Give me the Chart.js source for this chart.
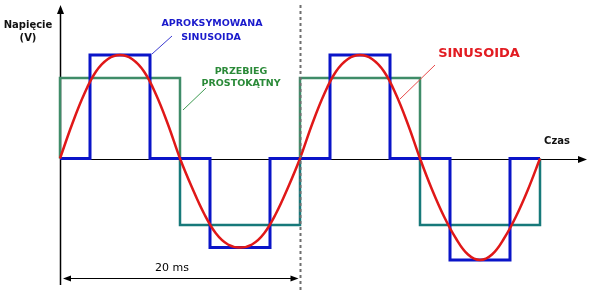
<!DOCTYPE html>
<html>
<head>
<meta charset="utf-8">
<script src="https://cdn.jsdelivr.net/npm/chart.js@4"></script>
<style>
  html, body { margin: 0; padding: 0; background: #fff; }
  canvas { display: block; }
</style>
</head>
<body>
<canvas id="waveChart" width="589" height="297"></canvas>
<script>
// time in ms, voltage in arbitrary units
const sineTimes = [0, 1, 2, 3, 4, 5, 6, 7, 8, 9, 10,
                   11, 12, 13, 14, 15, 16, 17, 18, 19, 20,
                   21, 22, 23, 24, 25, 26, 27, 28, 29, 30,
                   31, 32, 33, 34, 35, 36, 37, 38, 39, 40];
const sineValues = [0, 34, 64, 87, 99.5, 103.5, 99.5, 87, 64, 34, 0,
                    -29, -55, -75, -86, -89, -86, -75, -55, -29, 0,
                    34, 64, 87, 99.5, 103.5, 99.5, 87, 64, 34, 0,
                    -31, -58, -80, -96, -101.5, -96, -80, -58, -31, 0];

const stepTimes = [0, 2.5, 2.5, 7.5, 7.5, 12.5, 12.5, 17.5, 17.5, 22.5, 22.5, 27.5, 27.5, 32.5, 32.5, 37.5, 37.5, 40];
const stepValues = [0, 0, 103.5, 103.5, 0, 0, -89, -89, 0, 0, 103.5, 103.5, 0, 0, -101.5, -101.5, 0, 0];

const squareTimes = [0, 0, 10, 10, 10, 20, 20, 20, 30, 30, 30, 40, 40];
const squareValues = [0, 80.5, 80.5, 0, -66.5, -66.5, 0, 80.5, 80.5, 0, -66.5, -66.5, 0];

const periodLabel = '20 ms';
const periodEnd = 20;

function toPoints(xs, ys) {
    return xs.map((x, i) => ({ x: x, y: ys[i] }));
}

function arrowHead(ctx, x, y, dir, len, half) {
    // dir: 'up', 'right', 'left'
    ctx.beginPath();
    if (dir === 'up') {
        ctx.moveTo(x, y); ctx.lineTo(x - half, y + len); ctx.lineTo(x + half, y + len);
    } else if (dir === 'right') {
        ctx.moveTo(x, y); ctx.lineTo(x - len, y - half); ctx.lineTo(x - len, y + half);
    } else {
        ctx.moveTo(x, y); ctx.lineTo(x + len, y - half); ctx.lineTo(x + len, y + half);
    }
    ctx.closePath();
    ctx.fill();
}

function label(ctx, text, x, y, font, color) {
    ctx.font = font;
    ctx.fillStyle = color;
    ctx.textAlign = 'center';
    ctx.textBaseline = 'middle';
    ctx.fillText(text, x, y);
}

function leader(ctx, x1, y1, x2, y2, color) {
    ctx.strokeStyle = color;
    ctx.lineWidth = 1;
    ctx.beginPath();
    ctx.moveTo(x1, y1);
    ctx.lineTo(x2, y2);
    ctx.stroke();
}

const axesPlugin = {
    id: 'axesPlugin',
    beforeDatasetsDraw(chart) {
        const ctx = chart.ctx;
        const x0 = Math.round(chart.scales.x.getPixelForValue(0)) + 0.5;
        const y0 = Math.round(chart.scales.y.getPixelForValue(0)) + 0.5;
        ctx.save();
        ctx.strokeStyle = '#000';
        ctx.fillStyle = '#000';
        ctx.lineWidth = 1.5;
        // y axis
        ctx.beginPath();
        ctx.moveTo(x0, 285);
        ctx.lineTo(x0, 12);
        ctx.stroke();
        arrowHead(ctx, x0, 5, 'up', 9, 3.5);
        // x axis
        ctx.lineWidth = 1.2;
        ctx.beginPath();
        ctx.moveTo(x0, y0);
        ctx.lineTo(580, y0);
        ctx.stroke();
        arrowHead(ctx, 587, y0, 'right', 9, 3.5);
        ctx.restore();
    },
    afterDatasetsDraw(chart) {
        const ctx = chart.ctx;
        const x0 = chart.scales.x.getPixelForValue(0);
        const xp = Math.round(chart.scales.x.getPixelForValue(periodEnd)) + 0.5;
        ctx.save();
        // dashed period marker
        ctx.strokeStyle = '#6e6e6e';
        ctx.lineWidth = 2;
        ctx.setLineDash([3, 3]);
        ctx.beginPath();
        ctx.moveTo(xp, 5);
        ctx.lineTo(xp, 290);
        ctx.stroke();
        ctx.setLineDash([]);

        // period dimension arrow
        const ya = 278.5;
        ctx.strokeStyle = '#000';
        ctx.fillStyle = '#000';
        ctx.lineWidth = 1;
        ctx.beginPath();
        ctx.moveTo(x0 + 6, ya);
        ctx.lineTo(xp - 6, ya);
        ctx.stroke();
        arrowHead(ctx, x0 + 3, ya, 'left', 8, 3);
        arrowHead(ctx, xp - 2, ya, 'right', 8, 3);
        label(ctx, periodLabel, 172, 268, '11px "DejaVu Sans"', '#000');

        // axis titles
        label(ctx, 'Napięcie', 28, 25, 'bold 10px "DejaVu Sans"', '#111');
        label(ctx, '(V)', 28, 38, 'bold 10px "DejaVu Sans"', '#111');
        label(ctx, 'Czas', 557, 141, 'bold 10px "DejaVu Sans"', '#111');

        // callouts
        label(ctx, 'APROKSYMOWANA', 212, 24, 'bold 9.5px "DejaVu Sans"', '#1a1acc');
        label(ctx, 'SINUSOIDA', 211, 38, 'bold 9.5px "DejaVu Sans"', '#1a1acc');
        leader(ctx, 152, 54, 172, 36, '#3b3bd0');

        label(ctx, 'PRZEBIEG', 241, 72, 'bold 9.5px "DejaVu Sans"', '#2a8a38');
        label(ctx, 'PROSTOKĄTNY', 241, 84, 'bold 9.5px "DejaVu Sans"', '#2a8a38');
        leader(ctx, 206, 88, 183, 110, '#3c9a50');

        label(ctx, 'SINUSOIDA', 479, 54, 'bold 13px "DejaVu Sans"', '#e21c22');
        leader(ctx, 435, 65, 400, 99, '#e84a4a');
        ctx.restore();
    }
};

const ctx = document.getElementById('waveChart').getContext('2d');
const chart = new Chart(ctx, {
    type: 'line',
    data: {
        datasets: [
            {
                label: 'Sinusoida',
                data: toPoints(sineTimes, sineValues),
                borderColor: '#e01818',
                borderWidth: 2.5,
                pointRadius: 0,
                tension: 0.4,
                clip: 12,
                order: 1
            },
            {
                label: 'Aproksymowana sinusoida',
                data: toPoints(stepTimes, stepValues),
                borderColor: '#0a14c8',
                borderWidth: 3,
                pointRadius: 0,
                tension: 0,
                clip: 12,
                order: 2
            },
            {
                label: 'Przebieg prostokątny',
                data: toPoints(squareTimes, squareValues),
                borderColor: '#3f8c68',
                borderWidth: 2.5,
                pointRadius: 0,
                tension: 0,
                clip: 12,
                order: 3,
                segment: {
                    borderColor: c => (c.p0.parsed.y + c.p1.parsed.y) / 2 >= 0 ? '#3f8c68' : '#17797a'
                }
            }
        ]
    },
    options: {
        responsive: false,
        animation: false,
        devicePixelRatio: 1,
        layout: { padding: { left: 60, right: 49, top: 48, bottom: 18 } },
        scales: {
            x: { type: 'linear', min: 0, max: 40, display: false },
            y: { type: 'linear', min: -120.5, max: 110.5, display: false }
        },
        plugins: {
            legend: { display: false },
            tooltip: { enabled: false }
        }
    },
    plugins: [axesPlugin]
});
</script>
</body>
</html>
